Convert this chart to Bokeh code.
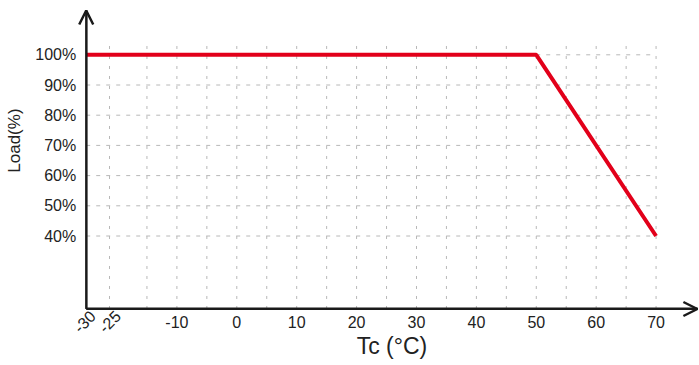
from bokeh.plotting import figure
from bokeh.models import (FixedTicker, PrintfTickFormatter, Label, Arrow, OpenHead)
from bokeh.embed import file_html
from bokeh.resources import INLINE
import numpy as np
import math

# ---- data ----
temp_c = [-30, 50, 70]
load_pct = [100, 100, 40]

x_major_ticks = [-10, 0, 10, 20, 30, 40, 50, 60, 70]
x_minor_ticks = [-25, -15, -5, 5, 15, 25, 35, 45, 55, 65]
x_break_labels = [-30, -25]          # rotated labels of the compressed axis start
y_ticks = [40, 50, 60, 70, 80, 90, 100]

# the x axis of the original is compressed left of -15 C:
# temperature -> position on the linear scale (piecewise)
knot_temp = [-30, -25, -15, 70]
knot_pos = [-25.14, -21.25, -15, 70]


def xpos(t):
    return np.interp(np.asarray(t, dtype=float), knot_temp, knot_pos).tolist()


# ---- layout (data units of the full canvas) ----
XR = (-39.45, 77.25)
YR = (-2.88, 117.98)
X_ORIGIN, Y_ORIGIN = xpos(-30), 15.83
X_TIP, Y_TIP = 76.9, 114.67
GRID_TOP = 104.1

FONT = "Liberation Sans"
RED = "#e2001a"
AXIS = "#1a1a1a"
GRID = "#b8b8b8"
TXT = "#222222"

p = figure(width=699, height=365, x_range=XR, y_range=YR,
           output_backend="svg", toolbar_location=None,
           min_border_left=0, min_border_right=0, min_border_top=0, min_border_bottom=0)
p.outline_line_color = None
p.background_fill_color = "white"
p.xgrid.visible = False
p.ygrid.visible = False

# dashed grid, limited to the area of the chart
grid_x = xpos(sorted(x_major_ticks + x_minor_ticks))
p.segment(x0=grid_x, y0=[Y_ORIGIN] * len(grid_x), x1=grid_x, y1=[GRID_TOP] * len(grid_x),
          line_color=GRID, line_width=1, line_dash="3 7")
grid_right = xpos(max(x_major_ticks))
p.segment(x0=[X_ORIGIN] * len(y_ticks), y0=y_ticks, x1=[grid_right] * len(y_ticks), y1=y_ticks,
          line_color=GRID, line_width=1, line_dash="4 6")

# axes (drawn at the origin inside the frame)
xa = p.xaxis[0]
xa.fixed_location = Y_ORIGIN
xa.bounds = (X_ORIGIN, X_TIP)
xa.ticker = FixedTicker(ticks=xpos(x_major_ticks))
xa.formatter = PrintfTickFormatter(format="%d")
xa.axis_line_width = 2
xa.axis_line_color = AXIS
xa.major_tick_line_color = None
xa.minor_tick_line_color = None
xa.major_label_text_font = FONT
xa.major_label_text_font_size = "16px"
xa.major_label_text_color = TXT
xa.major_label_standoff = 1
xa.axis_label = "Tc (°C)"
xa.axis_label_text_font = FONT
xa.axis_label_text_font_size = "23px"
xa.axis_label_text_font_style = "normal"
xa.axis_label_text_color = TXT
xa.axis_label_standoff = 2

ya = p.yaxis[0]
ya.fixed_location = X_ORIGIN
ya.bounds = (Y_ORIGIN, Y_TIP)
ya.ticker = FixedTicker(ticks=y_ticks)
ya.formatter = PrintfTickFormatter(format="%d%%")
ya.axis_line_width = 2
ya.axis_line_color = AXIS
ya.major_tick_line_color = None
ya.minor_tick_line_color = None
ya.major_label_text_font = FONT
ya.major_label_text_font_size = "16px"
ya.major_label_text_color = TXT
ya.major_label_standoff = 4

# derating curve
p.line(xpos(temp_c), load_pct, line_color=RED, line_width=4)

# axis arrows
p.add_layout(Arrow(x_start=X_ORIGIN, y_start=Y_ORIGIN, x_end=X_ORIGIN, y_end=Y_TIP,
                   line_color=AXIS, line_width=2,
                   end=OpenHead(size=14, line_width=2.5, line_color=AXIS)))
p.add_layout(Arrow(x_start=X_ORIGIN, y_start=Y_ORIGIN, x_end=X_TIP, y_end=Y_ORIGIN,
                   line_color=AXIS, line_width=2,
                   end=OpenHead(size=14, line_width=2.5, line_color=AXIS)))

# rotated labels of the compressed part of the x axis
label_shift = [-0.3, 0.0]
for t, dx in zip(x_break_labels, label_shift):
    p.add_layout(Label(x=xpos(t) + dx, y=11.69, text=str(t), angle=math.radians(45),
                       text_align="center", text_baseline="middle",
                       text_font=FONT, text_font_size="16px", text_color=TXT))

# y axis title
p.add_layout(Label(x=-37.11, y=71.6, text="Load(%)", angle=math.radians(90),
                   text_align="center", text_baseline="middle",
                   text_font=FONT, text_font_size="17px", text_color=TXT))

open("out.html", "w").write(file_html(p, INLINE))
